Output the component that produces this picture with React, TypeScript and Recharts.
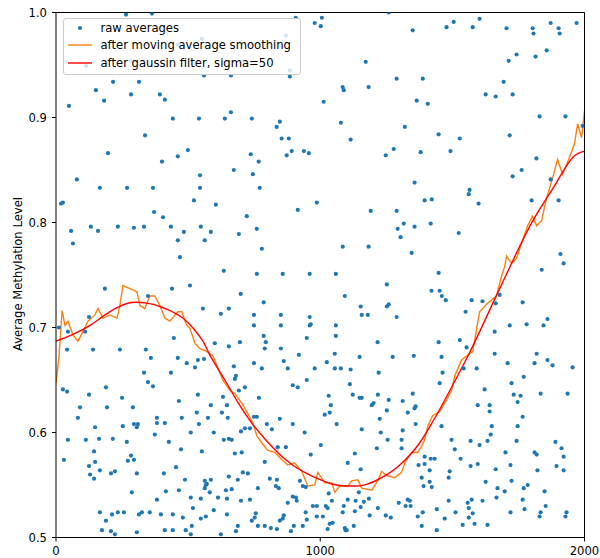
import React from 'react';
import { ComposedChart, Scatter, Line, XAxis, YAxis, Legend, ReferenceLine } from 'recharts';

// raw averages: [position, average methylation level]
const rawPoints: [number, number][] = [
  [265,0.998],[363,0.999],[49,0.911],[151,0.926],[216,0.934],[314,0.934],[182,0.916],[284,0.922],[393,0.922],[412,0.917],[442,0.899],[541,0.899],[639,0.899],[337,0.883],[197,0.866],[499,0.869],[461,0.863],[401,0.858],[79,0.841],[545,0.845],[560,0.940],[284,0.954],[461,0.969],[552,0.975],[114,0.949],
  [166,0.833],[269,0.833],[367,0.833],[545,0.833],[19,0.818],[26,0.819],[522,0.821],[605,0.817],[371,0.810],[405,0.805],[57,0.792],[132,0.796],[159,0.792],[234,0.796],[295,0.795],[333,0.796],[435,0.796],[484,0.791],[548,0.796],[586,0.791],[64,0.780],[461,0.783],[563,0.783],[469,0.767],[635,0.754],[185,0.737],[439,0.737],[507,0.740],[348,0.730],[556,0.718],[654,0.718],[624,0.713],[125,0.710],[11,0.700],[45,0.696],[110,0.696],[446,0.690],[601,0.685],[42,0.679],[140,0.679],[242,0.679],[340,0.679],[359,0.671],[461,0.671],[654,0.682],
  [495,0.666],[526,0.662],[537,0.669],[560,0.670],[333,0.657],[435,0.657],[348,0.648],[367,0.644],[189,0.643],[26,0.641],[42,0.639],[125,0.636],[250,0.633],[537,0.636],[465,0.630],[632,0.634],[91,0.624],[193,0.624],[291,0.624],[586,0.626],[647,0.626],[533,0.619],[628,0.619],[83,0.614],[382,0.614],[476,0.614],[575,0.614],[148,0.605],[253,0.606],[295,0.608],[306,0.605],[310,0.608],[382,0.609],[412,0.609],[541,0.608],[374,0.598],[510,0.600],[597,0.600],[45,0.593],[113,0.593],[163,0.594],[215,0.594],[268,0.591],[427,0.591],[635,0.593],[654,0.594],[473,0.584],[144,0.582],[552,0.582],[30,0.574],[284,0.578],[272,0.573],[295,0.574],[148,0.572],[125,0.568],[166,0.564],[454,0.567],[223,0.563],[208,0.561],[129,0.560],[306,0.561],[408,0.561],[144,0.556],[488,0.555],[563,0.554],[567,0.550],[571,0.551],[563,0.547],[586,0.555],[654,0.558],[287,0.543],[416,0.544],[465,0.545],[582,0.543],[643,0.545],[382,0.536],[510,0.538],[548,0.537],[613,0.538],[518,0.528],[597,0.526],[166,0.524],[234,0.524],[257,0.524],[325,0.524],[314,0.522],[355,0.524],[212,0.522],[397,0.522],[442,0.522],[480,0.519],[548,0.518],[567,0.520],[647,0.522],[189,0.516],[514,0.511],[174,0.507],[208,0.506],[223,0.503],[306,0.505],[412,0.507],[442,0.507],[491,0.507],[624,0.503],[510,0.503],
  [907,0.995],[979,0.990],[1006,0.995],[1002,0.987],[1259,1.0],[870,0.978],[885,0.945],[885,0.939],[662,0.940],[1172,0.953],[1289,0.937],[1085,0.929],[1089,0.926],[1183,0.929],[1013,0.915],[662,0.905],[741,0.899],[847,0.896],[835,0.891],[1078,0.895],[1320,0.891],[854,0.880],[881,0.880],[1115,0.879],[737,0.865],[767,0.858],[873,0.864],[892,0.868],[938,0.868],[957,0.866],[1248,0.864],[1278,0.870],[673,0.850],[745,0.846],
  [1350,0.983],[1478,0.986],[1505,0.991],[1577,0.986],[1603,0.994],[1705,0.985],[1804,0.985],[1807,0.980],[1872,0.990],[1902,0.985],[1906,0.980],[1970,0.990],[1713,0.954],[1743,0.960],[1815,0.958],[1857,0.964],[1388,0.937],[1694,0.934],[1626,0.922],[1664,0.920],[1728,0.922],[1365,0.916],[1407,0.913],[1830,0.901],[1928,0.901],[1448,0.884],[1528,0.880],[1717,0.883],[1380,0.867],[1493,0.868],[1993,0.892],[1818,0.861],[1762,0.850],[1728,0.844],[1357,0.838],[1872,0.841],
  [771,0.833],[987,0.819],[915,0.812],[722,0.806],[760,0.794],[692,0.789],[779,0.775],[1191,0.811],[1289,0.811],[1316,0.799],[1293,0.794],[1304,0.786],[1085,0.777],[1183,0.777],[760,0.751],[858,0.751],[960,0.751],[1059,0.751],[1252,0.741],[699,0.732],[1093,0.730],[786,0.724],[749,0.712],[851,0.712],[960,0.710],[1153,0.720],[1252,0.720],[1259,0.722],[1157,0.712],[1180,0.712],[1289,0.710],[749,0.702],[851,0.702],[960,0.702],[964,0.703],[1059,0.702],[786,0.692],[794,0.686],[696,0.686],[790,0.680],[851,0.680],[949,0.690],[1059,0.692],[1217,0.686],[919,0.674],[1055,0.675],[1149,0.672],[1274,0.672],
  [1565,0.831],[1562,0.827],[1395,0.821],[1422,0.822],[1599,0.818],[1800,0.821],[1902,0.821],[1357,0.796],[1418,0.799],[1524,0.790],[1346,0.771],[1909,0.770],[1921,0.761],[1838,0.755],[1448,0.752],[1421,0.735],[1452,0.735],[1460,0.730],[1475,0.726],[1573,0.726],[1614,0.725],[1664,0.723],[1766,0.724],[1679,0.731],[1550,0.715],[1860,0.708],[1845,0.702],[1717,0.702],[1781,0.703],[1660,0.696],[1528,0.688],[1448,0.686],[1554,0.681],[1354,0.673],[1459,0.672],[1660,0.675],[1819,0.675],
  [862,0.668],[673,0.663],[749,0.666],[779,0.661],[877,0.661],[979,0.661],[1025,0.667],[1055,0.661],[1078,0.661],[1115,0.660],[1221,0.657],[681,0.654],[677,0.651],[949,0.650],[896,0.645],[915,0.643],[1112,0.646],[715,0.643],[692,0.640],[1123,0.636],[1218,0.636],[768,0.633],[1032,0.635],[1149,0.633],[1157,0.633],[1040,0.626],[1195,0.626],[1202,0.628],[1259,0.631],[1252,0.621],[650,0.614],[760,0.615],[749,0.615],[1036,0.619],[1017,0.617],[1225,0.613],[847,0.613],[896,0.608],[798,0.608],[1062,0.608],[1157,0.603],[700,0.601],[715,0.604],[734,0.604],[817,0.603],[941,0.600],[1312,0.602],[1229,0.600],[665,0.593],[1255,0.593],[1308,0.593],[1002,0.588],[839,0.586],[870,0.586],[1214,0.585],[677,0.580],[703,0.581],[964,0.579],[1131,0.580],[790,0.572],[1153,0.565],[1104,0.571],[707,0.562],[726,0.561],[688,0.555],[809,0.556],[836,0.555],[832,0.549],[923,0.554],[764,0.547],[843,0.547],[665,0.546],[934,0.549],[945,0.548],[1032,0.542],[1146,0.543],[1184,0.537],[647,0.537],[734,0.536],[700,0.535],[896,0.539],[908,0.538],[911,0.535],[1044,0.535],[1104,0.536],[1134,0.535],[1165,0.534],[1153,0.529],[1297,0.533],[877,0.533],[972,0.530],[987,0.530],[1021,0.530],[1028,0.528],[1089,0.530],[1218,0.528],[1085,0.524],[1131,0.525],[945,0.524],[756,0.523],[752,0.519],[862,0.521],[858,0.518],[987,0.520],[1010,0.520],[1187,0.521],[1248,0.521],[1267,0.519],[741,0.516],[1047,0.514],[1036,0.513],[1028,0.508],[949,0.517],[847,0.516],[688,0.511],[764,0.511],[790,0.511],[813,0.509],[836,0.508],[900,0.511],[934,0.511],[1093,0.509],[1096,0.507],[1100,0.507],[1127,0.511],[681,0.506],[889,0.506],
  [1860,0.669],[1879,0.664],[1709,0.666],[1811,0.666],[1955,0.662],[1463,0.657],[1592,0.661],[1543,0.661],[1770,0.653],[1452,0.647],[1724,0.647],[1622,0.641],[1350,0.637],[1732,0.636],[1758,0.635],[1834,0.637],[1936,0.637],[1747,0.629],[1312,0.630],[1361,0.625],[1357,0.623],[1596,0.626],[1641,0.626],[1641,0.620],[1331,0.619],[1766,0.615],[1361,0.608],[1459,0.606],[1649,0.606],[1747,0.606],[1645,0.598],[1497,0.593],[1569,0.592],[1633,0.592],[1743,0.592],[1890,0.591],[1308,0.585],[1603,0.588],[1509,0.584],[1913,0.585],[1701,0.581],[1811,0.581],[1819,0.579],[1921,0.577],[1395,0.577],[1418,0.575],[1433,0.575],[1531,0.575],[1372,0.569],[1395,0.570],[1596,0.570],[1720,0.569],[1894,0.568],[1569,0.568],[1414,0.564],[1490,0.563],[1664,0.565],[1822,0.564],[1921,0.564],[1384,0.557],[1486,0.557],[1724,0.554],[1414,0.553],[1626,0.553],[1391,0.549],[1422,0.548],[1671,0.547],[1698,0.544],[1770,0.547],[1785,0.550],[1849,0.544],[1331,0.536],[1339,0.535],[1486,0.535],[1573,0.536],[1614,0.535],[1667,0.538],[1766,0.536],[1558,0.533],[1323,0.530],[1342,0.530],[1441,0.527],[1562,0.528],[1773,0.527],[1853,0.530],[1388,0.524],[1512,0.524],[1720,0.524],[1834,0.524],[1830,0.520],[1932,0.524],[1928,0.520],[1369,0.520],[1471,0.518],[1562,0.519],[1577,0.523],[1539,0.512],[1584,0.513],[1633,0.512],[1384,0.511],[1441,0.507],
];

// after moving average smoothing
const movingAverage: [number, number][] = [
  [0,0.647],[11,0.671],[23,0.716],[34,0.702],[45,0.706],[64,0.693],[83,0.687],[102,0.696],[121,0.706],[147,0.712],[159,0.718],[178,0.709],[204,0.712],[231,0.709],[242,0.721],[253,0.740],[280,0.737],[306,0.734],[318,0.721],[336,0.718],[355,0.730],[374,0.730],[393,0.721],[412,0.709],[431,0.706],[461,0.715],[476,0.715],[495,0.702],[507,0.699],[526,0.685],[544,0.680],[571,0.677],[594,0.673],[631,0.650],[658,0.640],[677,0.637],[703,0.628],[722,0.620],[745,0.609],[760,0.597],[779,0.590],[802,0.583],[828,0.581],[855,0.574],[877,0.569],[904,0.571],[930,0.563],[953,0.549],[979,0.550],[991,0.562],[1017,0.552],[1044,0.552],[1055,0.543],[1074,0.549],[1104,0.549],[1119,0.554],[1142,0.555],[1157,0.547],[1195,0.545],[1217,0.554],[1233,0.563],[1251,0.559],[1282,0.557],[1308,0.562],[1320,0.571],[1327,0.574],[1346,0.581],[1369,0.581],[1384,0.587],[1395,0.593],[1407,0.606],[1425,0.616],[1452,0.620],[1478,0.631],[1497,0.640],[1509,0.654],[1535,0.669],[1565,0.675],[1577,0.677],[1603,0.715],[1633,0.723],[1667,0.730],[1686,0.749],[1698,0.758],[1705,0.768],[1724,0.761],[1743,0.766],[1766,0.783],[1785,0.797],[1803,0.806],[1819,0.797],[1838,0.802],[1856,0.823],[1879,0.842],[1898,0.860],[1917,0.846],[1943,0.862],[1962,0.875],[1974,0.894],[1989,0.881],[2000,0.906],
];

// after gaussian filter, sigma=50
const gaussianFiltered: [number, number][] = [
  [0,0.687],[60,0.693],[129,0.702],[180,0.711],[231,0.719],[299,0.724],[350,0.723],[393,0.720],[440,0.715],[480,0.709],[520,0.699],[556,0.687],[582,0.674],[600,0.666],[639,0.650],[690,0.628],[741,0.609],[790,0.594],[839,0.581],[890,0.570],[941,0.562],[990,0.556],[1044,0.551],[1100,0.549],[1142,0.549],[1180,0.551],[1217,0.555],[1260,0.561],[1301,0.569],[1376,0.590],[1425,0.610],[1501,0.645],[1565,0.676],[1679,0.737],[1803,0.801],[1894,0.838],[1932,0.854],[1960,0.863],[2000,0.868],
];

const xTicks = [0, 1000, 2000];
const yTicks = [0.5, 0.6, 0.7, 0.8, 0.9, 1.0];
const seriesNames = ['raw averages', 'after moving average smoothing', 'after gaussin filter, sigma=50'];
const yAxisTitle = 'Average Methylation Level';

const BLUE = '#1f77b4';
const ORANGE = '#ff7f0e';
const RED = '#ff0000';
const FONT = 'DejaVu Sans';
const FS = 11.6;

const rawData = rawPoints.map(([x, y]) => ({ x, y }));
const maData = movingAverage.map(([x, y]) => ({ x, y }));
const gData = gaussianFiltered.map(([x, y]) => ({ x, y }));

const Dot = (p: any) => <circle cx={p.cx} cy={p.cy} r={2.1} fill={BLUE} />;

const YTitle = (props: any) => {
  const vb = props.viewBox || { x: 0, y: 12.5, width: 56, height: 525 };
  const cy = vb.y + vb.height / 2 - 1;
  const cx = 18;
  return (
    <text x={cx} y={cy} transform={`rotate(-90, ${cx}, ${cy})`} textAnchor="middle" dominantBaseline="central"
      fontFamily={FONT} fontSize={FS} fill="#000">{yAxisTitle}</text>
  );
};

const LegendBox = () => {
  const handles = [
    <svg width={24} height={18}><circle cx={12} cy={9} r={2.1} fill={BLUE} /></svg>,
    <svg width={24} height={18}><line x1={0} x2={24} y1={9} y2={9} stroke={ORANGE} strokeWidth={1.4} /></svg>,
    <svg width={24} height={18}><line x1={0} x2={24} y1={9} y2={9} stroke={RED} strokeWidth={1.4} /></svg>,
  ];
  return (
    <div style={{ boxSizing: 'border-box', width: 238, height: 57, border: '1px solid #cccccc', borderRadius: 3,
      background: 'rgba(255,255,255,0.8)', position: 'relative', fontFamily: FONT, fontSize: FS, color: '#000' }}>
      {seriesNames.map((n, i) => (
        <div key={n} style={{ position: 'absolute', left: 0, top: i * 17.8, height: 18, width: 236 }}>
          <div style={{ position: 'absolute', left: 4, top: 0, height: 18 }}>{handles[i]}</div>
          <div style={{ position: 'absolute', left: 37, top: 0, height: 18, lineHeight: '18px', whiteSpace: 'nowrap' }}>{n}</div>
        </div>
      ))}
    </div>
  );
};

export default function App() {
  return (
    <div style={{ position: 'absolute', left: 0, top: 0, width: 600, height: 558, background: '#fff' }}>
      <ComposedChart width={600} height={558} margin={{ top: 12.5, right: 15.5, bottom: 0, left: 0 }}>
        <XAxis type="number" dataKey="x" domain={[0, 2000]} ticks={xTicks} allowDataOverflow
          height={20.5} tickSize={4} tickMargin={5} stroke="#000" strokeWidth={1}
          tick={{ fill: '#000', fontSize: FS, fontFamily: FONT }} />
        <YAxis type="number" dataKey="y" domain={[0.5, 1]} ticks={yTicks} allowDataOverflow
          width={56} tickSize={4} tickMargin={5} stroke="#000" strokeWidth={1}
          tickFormatter={(v: number) => v.toFixed(1)}
          tick={{ fill: '#000', fontSize: FS, fontFamily: FONT }}
          label={<YTitle />} />
        <Scatter name={seriesNames[0]} data={rawData} dataKey="y" fill={BLUE} shape={Dot} isAnimationActive={false} />
        <Line name={seriesNames[1]} data={maData} dataKey="y" type="linear" stroke={ORANGE} strokeWidth={1.4}
          dot={false} activeDot={false} isAnimationActive={false} />
        <Line name={seriesNames[2]} data={gData} dataKey="y" type="monotone" stroke={RED} strokeWidth={1.4}
          dot={false} activeDot={false} isAnimationActive={false} />
        <ReferenceLine y={1} stroke="#000" strokeWidth={1} />
        <ReferenceLine x={2000} stroke="#000" strokeWidth={1} />
        <Legend content={<LegendBox />} layout="vertical" align="center" verticalAlign="middle"
          wrapperStyle={{ position: 'absolute', left: 62.5, top: 17.5, width: 238, height: 57 }} />
      </ComposedChart>
    </div>
  );
}
